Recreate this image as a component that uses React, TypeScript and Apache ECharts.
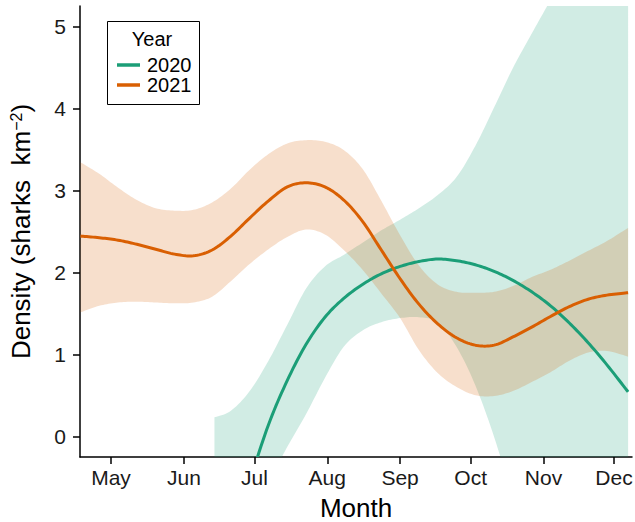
import React, { useEffect, useRef } from "react";
import * as echarts from "echarts";

const years = ["2020", "2021"];
const monthLabels = ["May", "Jun", "Jul", "Aug", "Sep", "Oct", "Nov", "Dec"];
const monthStartDays = [121, 152, 182, 213, 244, 274, 305, 335];
const yTicks = [0, 1, 2, 3, 4, 5];

// 2021 fit (x = day of year)
const days2021 = [108, 116, 124, 132, 140, 148, 156, 164, 172, 180, 188, 196, 204, 212, 220, 228, 236, 244, 252, 260, 268, 276, 284, 292, 300, 308, 316, 324, 332, 341];
const fit2021 = [2.45, 2.43, 2.4, 2.35, 2.29, 2.23, 2.21, 2.28, 2.45, 2.67, 2.88, 3.05, 3.1, 3.05, 2.89, 2.63, 2.28, 1.93, 1.62, 1.38, 1.21, 1.12, 1.12, 1.22, 1.34, 1.47, 1.59, 1.68, 1.73, 1.76];
const lower2021 = [1.52, 1.6, 1.64, 1.65, 1.64, 1.63, 1.64, 1.71, 1.9, 2.11, 2.29, 2.44, 2.53, 2.47, 2.28, 2.04, 1.75, 1.45, 1.06, 0.78, 0.61, 0.51, 0.5, 0.56, 0.67, 0.79, 0.93, 1.03, 1.05, 0.98];
const upper2021 = [3.35, 3.21, 3.04, 2.89, 2.79, 2.76, 2.77, 2.86, 3.03, 3.26, 3.45, 3.58, 3.62, 3.6, 3.5, 3.27, 2.88, 2.46, 2.09, 1.86, 1.77, 1.76, 1.77, 1.84, 1.95, 2.04, 2.15, 2.27, 2.39, 2.55];

// 2020 fit
const days2020 = [165, 172, 180, 188, 196, 204, 212, 220, 228, 236, 244, 252, 260, 268, 276, 284, 292, 300, 308, 316, 324, 332, 341];
const fit2020 = [-2.0, -1.35, -0.55, 0.15, 0.69, 1.13, 1.46, 1.69, 1.86, 1.99, 2.08, 2.14, 2.17, 2.15, 2.1, 2.02, 1.91, 1.77, 1.6, 1.39, 1.15, 0.88, 0.55];
const lower2020 = [-1.7, -1.35, -0.95, -0.55, -0.12, 0.28, 0.72, 1.1, 1.3, 1.4, 1.45, 1.46, 1.4, 1.1, 0.63, 0.0, -0.75, -1.45, -2.1, -2.75, -3.4, -4.0, -4.7];
const upper2020 = [0.24, 0.32, 0.56, 0.93, 1.37, 1.81, 2.08, 2.22, 2.37, 2.52, 2.65, 2.79, 2.95, 3.17, 3.55, 4.02, 4.5, 4.92, 5.33, 5.75, 6.15, 6.5, 6.85];

const colors: Record<string, string> = { "2020": "#1b9e77", "2021": "#d95f02" };
const FONT = "'Liberation Sans', Arial, Helvetica, sans-serif";

function rgba(hex: string, a: number) {
  const n = parseInt(hex.slice(1), 16);
  return `rgba(${(n >> 16) & 255},${(n >> 8) & 255},${n & 255},${a})`;
}

// Catmull-Rom smoothing of screen points (drawing only)
function spline(pts: number[][], steps = 10): number[][] {
  if (pts.length < 3) return pts;
  const out: number[][] = [];
  for (let i = 0; i < pts.length - 1; i++) {
    const p0 = pts[Math.max(0, i - 1)];
    const p1 = pts[i];
    const p2 = pts[i + 1];
    const p3 = pts[Math.min(pts.length - 1, i + 2)];
    for (let s = 0; s < steps; s++) {
      const t = s / steps;
      const t2 = t * t;
      const t3 = t2 * t;
      const f = (a: number, b: number, c: number, d: number) =>
        0.5 * (2 * b + (-a + c) * t + (2 * a - 5 * b + 4 * c - d) * t2 + (-a + 3 * b - 3 * c + d) * t3);
      out.push([f(p0[0], p1[0], p2[0], p3[0]), f(p0[1], p1[1], p2[1], p3[1])]);
    }
  }
  out.push(pts[pts.length - 1]);
  return out;
}

function clipRect(params: any) {
  const cs = params.coordSys;
  return { type: "rect", shape: { x: cs.x, y: cs.y, width: cs.width, height: cs.height } };
}

function ribbonSeries(name: string, days: number[], lo: number[], hi: number[], color: string) {
  return {
    type: "custom",
    name: name + " CI",
    coordinateSystem: "cartesian2d",
    data: [[days[0], lo[0]]],
    clip: true,
    silent: true,
    z: 1,
    renderItem: (params: any, api: any) => {
      const up = spline(days.map((d, i) => api.coord([d, hi[i]])));
      const dn = spline(days.map((d, i) => api.coord([d, lo[i]])));
      const pts = up.concat(dn.reverse());
      return {
        type: "group",
        clipPath: clipRect(params),
        children: [
          {
            type: "polygon",
            shape: { points: pts },
            style: { fill: rgba(color, 0.2), stroke: "none" },
          },
        ],
      };
    },
  };
}

function fitSeries(name: string, days: number[], fit: number[], color: string) {
  return {
    type: "custom",
    name,
    coordinateSystem: "cartesian2d",
    data: [[days[0], fit[0]]],
    clip: true,
    silent: true,
    z: 3,
    renderItem: (params: any, api: any) => {
      const pts = spline(days.map((d, i) => api.coord([d, fit[i]])));
      return {
        type: "group",
        clipPath: clipRect(params),
        children: [
          {
            type: "polyline",
            shape: { points: pts },
            style: { stroke: color, lineWidth: 3, fill: "none", lineJoin: "round" },
          },
        ],
      };
    },
  };
}

export default function App() {
  const ref = useRef<HTMLDivElement>(null);
  useEffect(() => {
    document.body.style.margin = "0";
    if (!ref.current) return;
    const chart = echarts.init(ref.current, undefined, { renderer: "svg" });

    const graphic: any[] = [
      {
        type: "rect",
        shape: { x: 107.5, y: 21.5, width: 92, height: 83 },
        style: { fill: "#fff", stroke: "#000", lineWidth: 1 },
        z: 100,
      },
      {
        type: "text",
        x: 152,
        y: 39,
        style: { text: "Year", fontSize: 20, fontFamily: FONT, fill: "#000", align: "center", verticalAlign: "middle" },
        z: 101,
      },
    ];
    years.forEach((y, i) => {
      const cy = 65 + 20 * i;
      graphic.push({
        type: "line",
        shape: { x1: 117, y1: cy, x2: 140, y2: cy },
        style: { stroke: colors[y], lineWidth: 3.5 },
        z: 101,
      });
      graphic.push({
        type: "text",
        x: 147,
        y: cy,
        style: { text: y, fontSize: 20, fontFamily: FONT, fill: "#000", align: "left", verticalAlign: "middle" },
        z: 101,
      });
    });

    chart.setOption({
      animation: false,
      grid: { left: 80, right: 3, top: 6, bottom: 65, containLabel: false, outerBoundsMode: "none" },
      xAxis: {
        type: "value",
        min: 107.8,
        max: 342.66,
        splitLine: { show: false },
        axisLine: { show: true, onZero: false, lineStyle: { color: "#000", width: 1.5 } },
        axisTick: { show: true, length: 7, customValues: monthStartDays, lineStyle: { color: "#000", width: 1.5 } },
        axisLabel: {
          customValues: monthStartDays,
          formatter: (v: number) => {
            const idx = monthStartDays.indexOf(Math.round(v));
            return idx >= 0 ? monthLabels[idx] : "";
          },
          fontSize: 21,
          fontFamily: FONT,
          color: "#1a1a1a",
          margin: 10,
        },
        name: "Month",
        nameLocation: "middle",
        nameGap: 38,
        nameTextStyle: { fontSize: 26, fontFamily: FONT, color: "#000", verticalAlign: "top" },
      },
      yAxis: {
        type: "value",
        min: -0.244,
        max: 5.256,
        splitLine: { show: false },
        axisLine: { show: true, onZero: false, lineStyle: { color: "#000", width: 1.5 } },
        axisTick: { show: true, length: 7, customValues: yTicks, lineStyle: { color: "#000", width: 1.5 } },
        axisLabel: { customValues: yTicks, fontSize: 21, fontFamily: FONT, color: "#1a1a1a", margin: 14 },
        name: "{a|Density (sharks  km}{s|−2}{a|)}",
        nameLocation: "middle",
        nameRotate: 90,
        nameGap: 46,
        nameTextStyle: {
          fontSize: 26,
          fontFamily: FONT,
          color: "#000",
          rich: {
            a: { fontSize: 26, fontFamily: FONT, color: "#000" },
            s: { fontSize: 16, fontFamily: FONT, color: "#000", verticalAlign: "top", padding: [0, 0, 10, 0] },
          },
        },
      },
      series: [
        ribbonSeries("2020", days2020, lower2020, upper2020, colors["2020"]),
        ribbonSeries("2021", days2021, lower2021, upper2021, colors["2021"]),
        fitSeries("2020", days2020, fit2020, colors["2020"]),
        fitSeries("2021", days2021, fit2021, colors["2021"]),
      ],
      graphic,
    });
    return () => chart.dispose();
  }, []);
  return <div ref={ref} style={{ width: 635, height: 522 }} />;
}
